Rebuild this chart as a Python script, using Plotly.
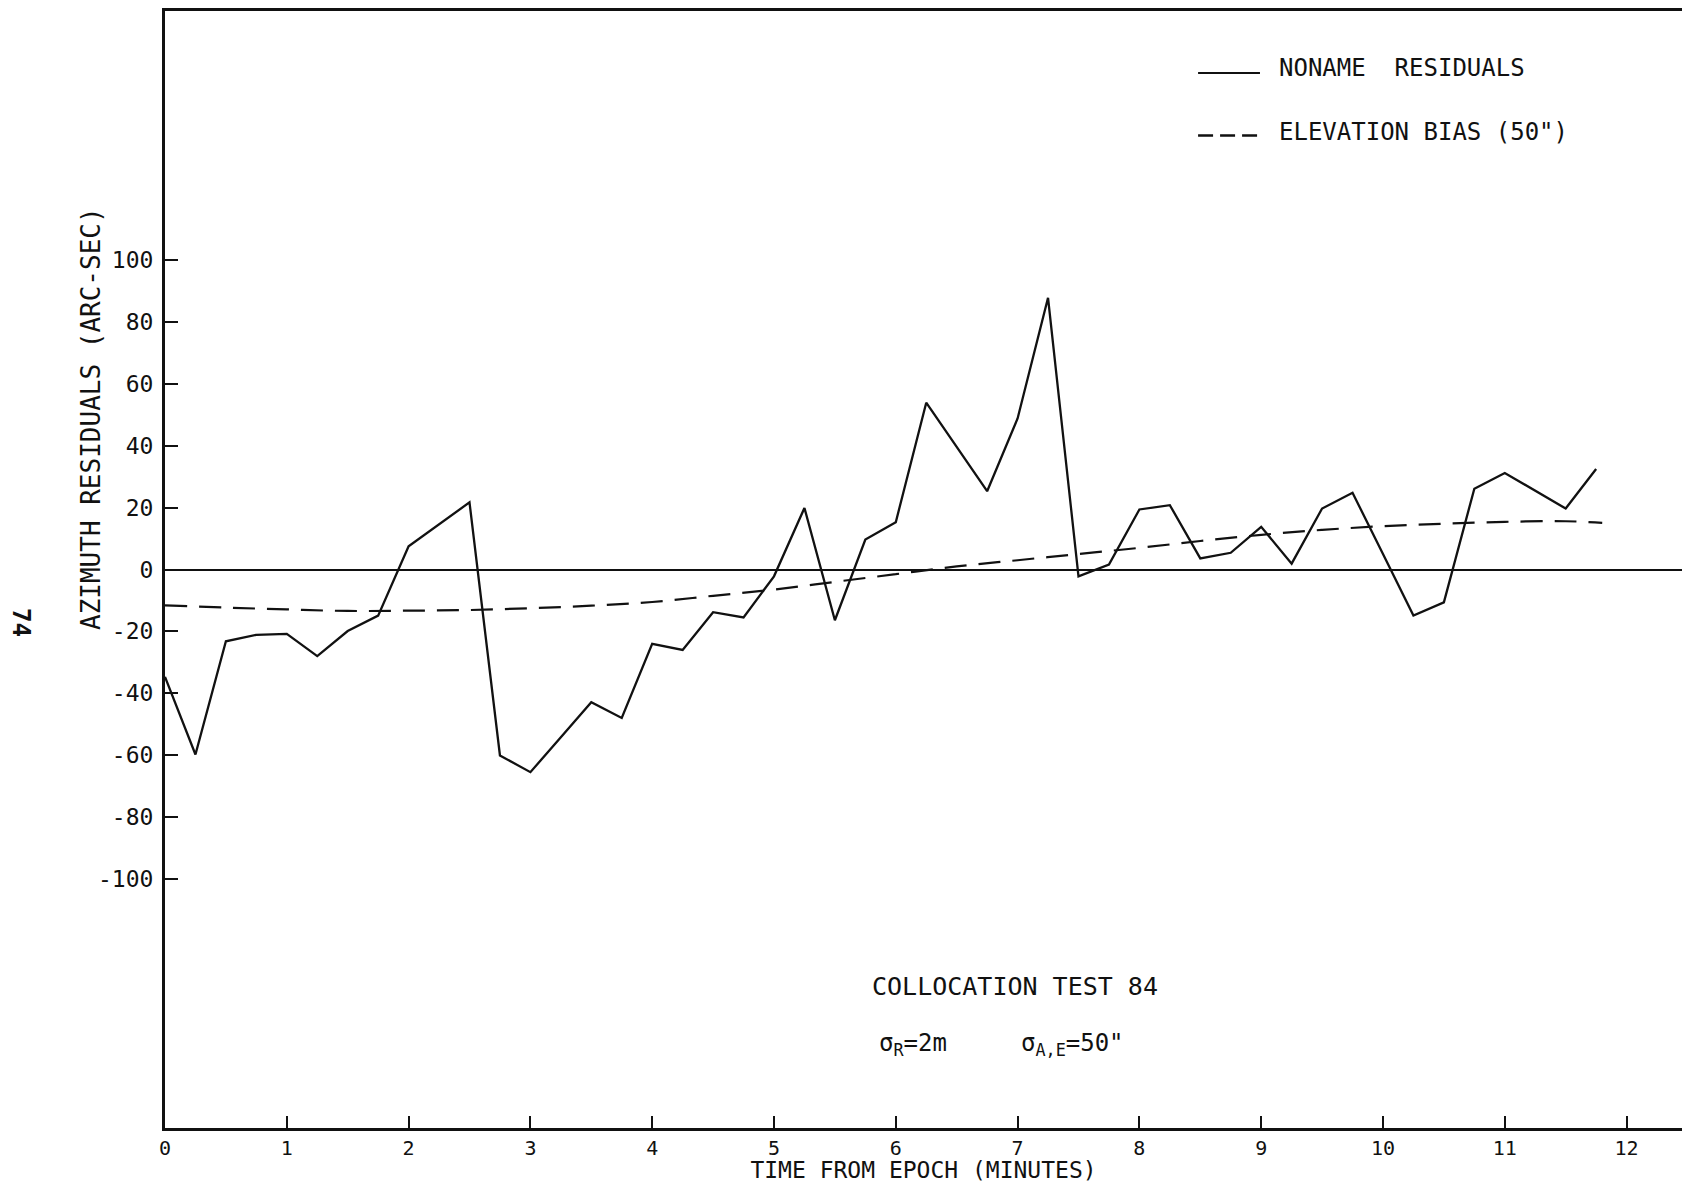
import plotly.graph_objects as go

# ---- data ----
t_resid = [0, 0.25, 0.5, 0.75, 1.0, 1.25, 1.5, 1.75, 2.0, 2.25, 2.5, 2.75,
           3.0, 3.25, 3.5, 3.75, 4.0, 4.25, 4.5, 4.75, 5.0, 5.25, 5.5, 5.75,
           6.0, 6.25, 6.5, 6.75, 7.0, 7.25, 7.5, 7.75, 8.0, 8.25, 8.5, 8.75,
           9.0, 9.25, 9.5, 9.75, 10.0, 10.25, 10.5, 10.75, 11.0, 11.25, 11.5, 11.75]
resid = [-34.7, -59.8, -23.2, -21.1, -20.8, -28.0, -19.9, -14.9, 7.5, 14.6, 21.7, -60.1,
         -65.5, -54.2, -42.9, -48.0, -24.0, -26.0, -13.8, -15.5, -2.2, 19.9, -16.4, 9.7,
         15.3, 53.9, 39.6, 25.3, 48.8, 87.8, -2.2, 1.6, 19.4, 20.8, 3.6, 5.4,
         13.8, 1.9, 19.7, 24.8, 5.0, -14.9, -10.6, 26.1, 31.2, 25.5, 19.7, 32.5]

t_bias = [0, 0.5, 1.0, 1.5, 2.0, 2.5, 3.0, 3.5, 4.0, 4.5, 5.0, 5.5, 6.0,
          6.5, 7.0, 7.5, 8.0, 8.5, 9.0, 9.5, 10.0, 10.5, 11.0, 11.5, 11.8]
bias = [-11.6, -12.3, -12.9, -13.4, -13.3, -13.1, -12.5, -11.7, -10.5, -8.5, -6.5, -4.0, -1.5,
        1.0, 3.0, 5.0, 7.0, 9.2, 11.2, 12.8, 14.0, 14.8, 15.4, 15.6, 15.1]

x_ticks = list(range(0, 13))
y_ticks = list(range(-100, 101, 20))

legend_names = ["NONAME\u00a0\u00a0RESIDUALS", "ELEVATION BIAS (50\")"]
y_title = "AZIMUTH RESIDUALS (ARC-SEC)"
x_title = "TIME FROM EPOCH (MINUTES)"
note_title = "COLLOCATION TEST 84"
note_sr = "\u03c3<sub>R</sub>=2m"
note_sae = "\u03c3<sub>A,E</sub>=50\""
page_no = "74"

FONT = "DejaVu Sans Mono"
INK = "#111111"

fig = go.Figure()
fig.add_trace(go.Scatter(x=t_resid, y=resid, mode="lines",
                         line=dict(color=INK, width=2.3), name=legend_names[0],
                         showlegend=False))
fig.add_trace(go.Scatter(x=t_bias, y=bias, mode="lines", line_shape="spline",
                         line=dict(color=INK, width=2.2, dash="22px,12px"),
                         name=legend_names[1], showlegend=False))

fig.update_layout(
    width=1682, height=1183,
    margin=dict(l=165, r=0, t=11, b=55),
    paper_bgcolor="white", plot_bgcolor="white",
    font=dict(family=FONT, color=INK),
    xaxis=dict(range=[0, 12.455], tickvals=x_ticks, ticktext=[str(v) for v in x_ticks],
               ticks="inside", ticklen=12, tickwidth=2, tickcolor=INK,
               showline=True, linecolor=INK, linewidth=2.5, mirror=True,
               showgrid=False, zeroline=False,
               tickfont=dict(size=20, family=FONT),
               title=dict(text=x_title, font=dict(size=23, family=FONT), standoff=2)),
    yaxis=dict(range=[-180.5, 180.5], tickvals=y_ticks, ticktext=[str(v) for v in y_ticks],
               ticks="inside", ticklen=13, tickwidth=2, tickcolor=INK,
               showline=True, linecolor=INK, linewidth=3, mirror=False,
               showgrid=False, zeroline=True, zerolinecolor=INK, zerolinewidth=1.6,
               tickfont=dict(size=23, family=FONT), ticklabelstandoff=4),
)

# legend drawn by hand (long sample lines like the original)
fig.add_shape(type="line", xref="paper", yref="paper", x0=0.681, x1=0.7218,
              y0=0.9445, y1=0.9445, line=dict(color=INK, width=2.2))
fig.add_shape(type="line", xref="paper", yref="paper", x0=0.681, x1=0.7218,
              y0=0.8885, y1=0.8885, line=dict(color=INK, width=2.4, dash="15px,7px"))
fig.add_annotation(text=legend_names[0], xref="paper", yref="paper", x=0.733, y=0.949,
                   xanchor="left", yanchor="middle", showarrow=False,
                   font=dict(size=24, family=FONT, color=INK))
fig.add_annotation(text=legend_names[1], xref="paper", yref="paper", x=0.733, y=0.8917,
                   xanchor="left", yanchor="middle", showarrow=False,
                   font=dict(size=24, family=FONT, color=INK))

# y axis title
fig.add_annotation(text=y_title, xref="paper", yref="paper", x=-0.0488, y=0.6356,
                   textangle=-90, showarrow=False, xanchor="center", yanchor="middle",
                   font=dict(size=26, family=FONT, color=INK))
# page number
fig.add_annotation(text="<b>" + page_no + "</b>", xref="paper", yref="paper", x=-0.0949, y=0.453,
                   textangle=90, showarrow=False, xanchor="center", yanchor="middle",
                   font=dict(size=24, family=FONT, color=INK))

# in-plot notes
fig.add_annotation(text=note_title, xref="paper", yref="paper", x=0.5604, y=0.1271,
                   showarrow=False, xanchor="center", yanchor="middle",
                   font=dict(size=25, family=FONT, color=INK))
fig.add_annotation(text=note_sr, xref="paper", yref="paper", x=0.4694, y=0.0752,
                   showarrow=False, xanchor="left", yanchor="middle",
                   font=dict(size=24, family=FONT, color=INK))
fig.add_annotation(text=note_sae, xref="paper", yref="paper", x=0.5630, y=0.0752,
                   showarrow=False, xanchor="left", yanchor="middle",
                   font=dict(size=24, family=FONT, color=INK))

fig.write_html("out.html")
